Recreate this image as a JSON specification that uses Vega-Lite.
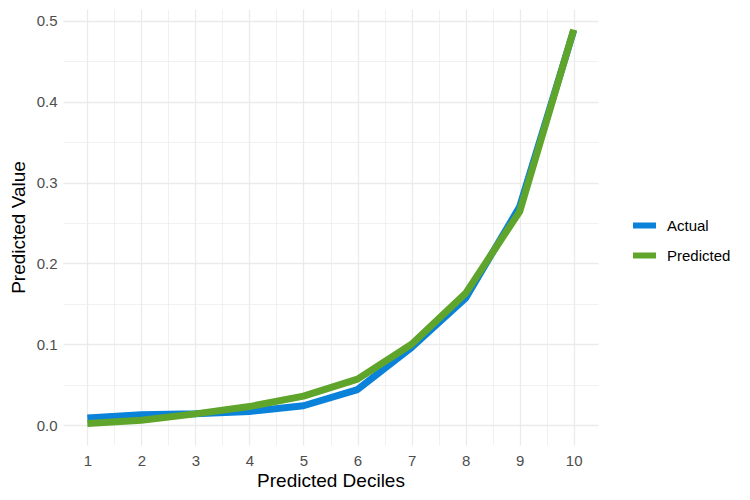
{
  "$schema": "https://vega.github.io/schema/vega-lite/v6.json",
  "width": 535,
  "height": 436,
  "autosize": "none",
  "padding": {"left": 63, "top": 9, "right": 152, "bottom": 55},
  "background": "white",
  "config": {
    "view": {"stroke": null},
    "font": "Liberation Sans"
  },
  "data": {
    "values": [
      {"decile": 1, "series": "Actual", "value": 0.009},
      {"decile": 2, "series": "Actual", "value": 0.013},
      {"decile": 3, "series": "Actual", "value": 0.014},
      {"decile": 4, "series": "Actual", "value": 0.017},
      {"decile": 5, "series": "Actual", "value": 0.024},
      {"decile": 6, "series": "Actual", "value": 0.044},
      {"decile": 7, "series": "Actual", "value": 0.096},
      {"decile": 8, "series": "Actual", "value": 0.157},
      {"decile": 9, "series": "Actual", "value": 0.270},
      {"decile": 10, "series": "Actual", "value": 0.488},
      {"decile": 1, "series": "Predicted", "value": 0.002},
      {"decile": 2, "series": "Predicted", "value": 0.006},
      {"decile": 3, "series": "Predicted", "value": 0.014},
      {"decile": 4, "series": "Predicted", "value": 0.023},
      {"decile": 5, "series": "Predicted", "value": 0.036},
      {"decile": 6, "series": "Predicted", "value": 0.057},
      {"decile": 7, "series": "Predicted", "value": 0.100},
      {"decile": 8, "series": "Predicted", "value": 0.163},
      {"decile": 9, "series": "Predicted", "value": 0.264},
      {"decile": 10, "series": "Predicted", "value": 0.489}
    ]
  },
  "mark": {"type": "line", "strokeWidth": 7, "strokeCap": "butt", "strokeJoin": "round"},
  "encoding": {
    "x": {
      "field": "decile",
      "type": "quantitative",
      "scale": {"domain": [0.55, 10.45], "nice": false, "zero": false},
      "axis": {
        "title": "Predicted Deciles",
        "values": [1, 1.5, 2, 2.5, 3, 3.5, 4, 4.5, 5, 5.5, 6, 6.5, 7, 7.5, 8, 8.5, 9, 9.5, 10],
        "labelExpr": "datum.value % 1 == 0 ? format(datum.value, 'd') : ''",
        "domain": false,
        "ticks": false,
        "grid": true,
        "gridColor": "#EBEBEB",
        "gridWidth": {"condition": {"test": "datum.value % 1 == 0", "value": 1.3}, "value": 0.7},
        "labelFontSize": 15,
        "labelColor": "#4D4D4D",
        "labelPadding": 8,
        "labelFlush": false,
        "titleFontSize": 19,
        "titleFontWeight": "normal",
        "titleColor": "#000000",
        "titlePadding": 3
      }
    },
    "y": {
      "field": "value",
      "type": "quantitative",
      "scale": {"domain": [-0.0245, 0.5145], "nice": false, "zero": false},
      "axis": {
        "title": "Predicted Value",
        "values": [0, 0.05, 0.1, 0.15, 0.2, 0.25, 0.3, 0.35, 0.4, 0.45, 0.5],
        "labelExpr": "abs(datum.value * 10 - round(datum.value * 10)) < 0.001 ? format(datum.value, '.1f') : ''",
        "domain": false,
        "ticks": false,
        "grid": true,
        "gridColor": "#EBEBEB",
        "gridWidth": {"condition": {"test": "abs(datum.value * 10 - round(datum.value * 10)) < 0.001", "value": 1.3}, "value": 0.7},
        "labelFontSize": 15,
        "labelColor": "#4D4D4D",
        "labelPadding": 6,
        "labelFlush": false,
        "titleFontSize": 19,
        "titleFontWeight": "normal",
        "titleColor": "#000000",
        "titlePadding": 8
      }
    },
    "color": {
      "field": "series",
      "type": "nominal",
      "scale": {"domain": ["Actual", "Predicted"], "range": ["#0B82DA", "#5FA52B"]},
      "legend": {
        "title": null,
        "orient": "none",
        "legendX": 567,
        "legendY": 202,
        "symbolType": "stroke",
        "symbolSize": 529,
        "symbolStrokeWidth": 6,
        "labelFontSize": 15,
        "labelColor": "#000000",
        "labelOffset": 8,
        "rowPadding": 3,
        "symbolOffset": 0
      }
    }
  }
}
